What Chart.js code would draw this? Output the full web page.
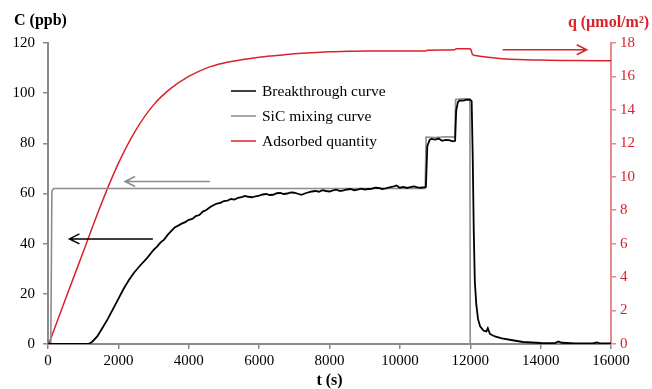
<!DOCTYPE html>
<html>
<head>
<meta charset="utf-8">
<script src="https://cdn.jsdelivr.net/npm/chart.js@4"></script>
<style>
  html, body { margin: 0; padding: 0; background: #fff; }
  canvas { display: block; }
</style>
</head>
<body>
<canvas id="chart" width="652" height="389"></canvas>
<script>
// Breakthrough curve (black), C in ppb
const breakTime = [0, 1150, 1250, 1400, 1550, 1700, 1850, 2000, 2150, 2300, 2450, 2600, 2800,
  3000, 3100, 3200, 3300, 3400, 3500, 3600, 3700, 3800, 3900, 4000, 4100, 4200, 4300, 4400, 4500, 4600, 4700, 4800, 4900,
  5000, 5100, 5200, 5300, 5400, 5500, 5600, 5700, 5800, 5900, 6000, 6100, 6200, 6300, 6400, 6500, 6600, 6700, 6800, 6900,
  7000, 7100, 7200, 7300, 7400, 7500, 7600, 7700, 7800, 7900, 8000, 8100, 8200, 8300, 8400, 8500, 8600, 8700, 8800, 8900,
  9000, 9100, 9200, 9300, 9400, 9500, 9600, 9700, 9800, 9900, 10000, 10100, 10200, 10300, 10400, 10500, 10600, 10700,
  10740, 10780, 10850, 10900, 11000, 11100, 11200, 11300, 11400, 11500, 11570, 11600, 11650, 11700, 11800, 11900, 12000,
  12040, 12070, 12100, 12130, 12170, 12220, 12280, 12380, 12460, 12500, 12560, 12700, 12900, 13200, 13500, 14000, 14400,
  14500, 14600, 15000, 15500, 15600, 15700, 16000];
const breakC = [0, 0, 0.8, 3, 6.5, 10, 14, 18, 22, 25.5, 28.5, 31, 34,
  37.5, 38.8, 40.5, 41.6, 43.5, 45.0, 46.5, 47.2, 48.0, 48.6, 49.5, 49.9, 51.0, 51.4, 52.8, 53.4, 54.5, 55.3, 56.0, 56.3,
  57.0, 57.2, 57.8, 57.6, 58.3, 58.6, 59.0, 58.7, 58.5, 58.9, 59.2, 59.6, 59.8, 59.4, 59.5, 60.1, 60.2, 59.8, 60.0, 60.4,
  60.3, 59.9, 59.5, 60.0, 60.5, 60.8, 61.0, 60.7, 61.3, 61.0, 60.8, 61.2, 61.5, 61.0, 61.2, 61.6, 61.8, 61.3, 61.5, 61.9,
  61.6, 61.8, 61.9, 62.3, 62.2, 61.8, 62.0, 62.4, 62.7, 63.2, 62.3, 62.6, 62.2, 62.5, 62.8, 62.4, 62.3, 62.5,
  62.6, 79, 81.5, 81.8, 81.5, 81.9, 81.0, 81.4, 81.3, 80.8, 81.0, 93, 96.5, 97.1, 97.0, 97.4, 97.3,
  96.8, 75, 45, 25, 16, 10, 7, 5.3, 5, 6.3, 4, 3, 2.2, 1.5, 0.8, 0.4, 0.3,
  1.0, 0.5, 0.2, 0.3, 0.6, 0.2, 0.2];

// SiC mixing curve (grey), C in ppb
const sicTime = [0, 80, 110, 160, 2000, 5000, 8000, 10720, 10745, 11000, 11300, 11560, 11585, 11800, 11990, 12000, 16000];
const sicC = [0, 0, 61, 62, 62, 62, 62, 62, 82.5, 82.3, 82.6, 82.5, 97.5, 97.8, 97.8, 0, 0];

// Adsorbed quantity (red), q in µmol/m²
const qTime = [20, 500, 1000, 1500, 2000, 2500, 3000, 3500, 4000, 4500, 5000, 5500, 6000, 6500, 7000, 7500, 8000, 8500,
  9000, 10000, 10740, 10770, 11560, 11600, 11980, 12020, 12060, 12150, 12500, 13000, 14000, 15000, 16000];
const qVal = [0, 2.7, 5.5, 8.3, 10.8, 12.8, 14.3, 15.3, 16.0, 16.5, 16.8, 17.0, 17.15, 17.25, 17.35, 17.42, 17.47, 17.5,
  17.52, 17.52, 17.52, 17.57, 17.6, 17.66, 17.66, 17.6, 17.33, 17.25, 17.15, 17.05, 16.98, 16.95, 16.94];

const labels = ['Breakthrough curve', 'SiC mixing curve', 'Adsorbed quantity'];

// arrows in data units: tStart -> tEnd at level C
const arrows = [
  { from: 4600, to: 2190, c: 64.8, color: '#8c8c8c' },
  { from: 2980, to: 610, c: 41.9, color: '#000000' },
  { from: 12920, to: 15310, c: 117.3, color: '#d9222a' }
];

const toXY = (ts, vs) => ts.map((t, i) => ({ x: t, y: vs[i] }));

const SERIF = "'Liberation Serif', 'Times New Roman', serif";
const RED = '#d9222a';

const overlay = {
  id: 'overlay',
  afterDatasetsDraw(chart) {
    const { ctx, chartArea, scales } = chart;
    ctx.save();

    // flèches
    arrows.forEach(a => {
      const x1 = scales.x.getPixelForValue(a.from);
      const x2 = scales.x.getPixelForValue(a.to);
      const y = scales.y.getPixelForValue(a.c);
      const dir = x2 > x1 ? 1 : -1;
      ctx.strokeStyle = a.color;
      ctx.lineWidth = 1.5;
      ctx.beginPath();
      ctx.moveTo(x1, y);
      ctx.lineTo(x2, y);
      ctx.moveTo(x2 - dir * 10, y - 5);
      ctx.lineTo(x2, y);
      ctx.lineTo(x2 - dir * 10, y + 5);
      ctx.stroke();
    });

    // légende
    const colors = ['#000000', '#8c8c8c', RED];
    ctx.font = '15.5px ' + SERIF;
    ctx.textBaseline = 'middle';
    ctx.textAlign = 'left';
    labels.forEach((l, i) => {
      const y = chartArea.top + 48 + i * 25;
      const x = chartArea.left + 183;
      ctx.strokeStyle = colors[i];
      ctx.lineWidth = 1.5;
      ctx.beginPath();
      ctx.moveTo(x, y);
      ctx.lineTo(x + 25, y);
      ctx.stroke();
      ctx.fillStyle = '#000';
      ctx.fillText(l, x + 31, y + 1);
    });

    // titres des axes
    ctx.font = 'bold 16px ' + SERIF;
    ctx.fillStyle = '#000';
    ctx.textAlign = 'left';
    ctx.fillText('C (ppb)', 14, 21);
    ctx.fillStyle = RED;
    ctx.textAlign = 'right';
    ctx.fillText('q (µmol/m²)', 649, 23);
    ctx.fillStyle = '#000';
    ctx.textAlign = 'center';
    ctx.fillText('t (s)', (chartArea.left + chartArea.right) / 2, 381);
    ctx.restore();
  }
};

new Chart(document.getElementById('chart'), {
  type: 'line',
  data: {
    datasets: [
      { label: labels[0], data: toXY(breakTime, breakC), borderColor: '#000', borderWidth: 1.8, yAxisID: 'y' },
      { label: labels[1], data: toXY(sicTime, sicC), borderColor: '#8c8c8c', borderWidth: 1.6, yAxisID: 'y' },
      { label: labels[2], data: toXY(qTime, qVal), borderColor: RED, borderWidth: 1.5, yAxisID: 'y2',
        cubicInterpolationMode: 'monotone' }
    ]
  },
  options: {
    responsive: false,
    animation: false,
    devicePixelRatio: 1,
    layout: { padding: { top: 43, left: 0, right: 0, bottom: 0 } },
    elements: { point: { radius: 0 }, line: { tension: 0 } },
    plugins: { legend: { display: false }, tooltip: { enabled: false } },
    scales: {
      x: {
        type: 'linear', min: 0, max: 16000,
        ticks: { stepSize: 2000, color: '#000', padding: 3, maxRotation: 0, font: { family: SERIF, size: 15 },
          callback: v => String(v) },
        grid: { drawOnChartArea: false, tickLength: 5, color: '#8a8a8a', lineWidth: 1.5 },
        border: { color: '#8a8a8a', width: 2 },
        afterFit(s) { s.height = 45; }
      },
      y: {
        position: 'left', min: 0, max: 120,
        ticks: { stepSize: 20, color: '#000', padding: 8, font: { family: SERIF, size: 15 } },
        grid: { drawOnChartArea: false, tickLength: 5, color: '#8a8a8a', lineWidth: 1.5 },
        border: { color: '#8a8a8a', width: 2 },
        afterFit(s) { s.width = 48; }
      },
      y2: {
        position: 'right', min: 0, max: 18,
        ticks: { stepSize: 2, color: RED, padding: 4, font: { family: SERIF, size: 15 } },
        grid: { drawOnChartArea: false, tickLength: 5, color: '#e88a8c', lineWidth: 1.5 },
        border: { color: '#e88a8c', width: 2 },
        afterFit(s) { s.width = 41; }
      }
    }
  },
  plugins: [overlay]
});
</script>
</body>
</html>
